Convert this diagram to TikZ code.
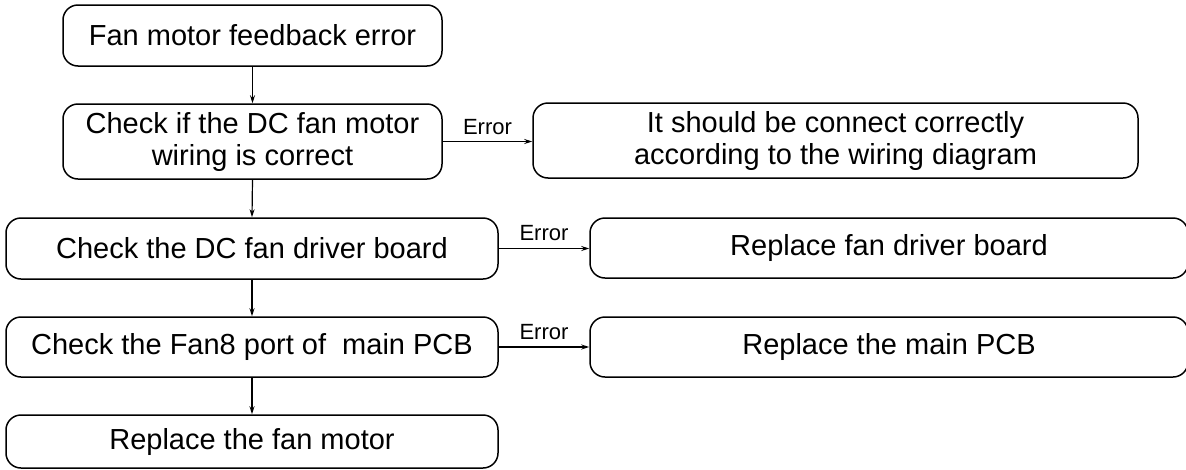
\documentclass[tikz,border=0pt]{standalone}
\usepackage{fontspec}
\setmainfont{Liberation Sans}
\usetikzlibrary{arrows.meta}
\begin{document}
\begin{tikzpicture}[x=1pt,y=-1pt,
  box/.style={draw, line width=1.5pt, rounded corners=15pt, align=center,
    inner sep=0pt, font=\fontsize{29}{32}\selectfont},
  flow/.style={line width=1.2pt, -{Stealth[length=8pt,width=5pt]}},
  lbl/.style={font=\fontsize{22}{24}\selectfont, inner sep=0pt}]
\useasboundingbox (0,0) rectangle (1186,469);
\node[box, minimum width=379pt, minimum height=61pt] (b1) at (252.5,35.5) {Fan motor feedback error};
\node[box, minimum width=379pt, minimum height=75pt] (b2) at (252.5,141.5) {Check if the DC fan motor\\wiring is correct};
\node[box, minimum width=605pt, minimum height=75pt] (r1) at (835.5,140.5) {It should be connect correctly\\according to the wiring diagram};
\node[box, minimum width=492pt, minimum height=61pt] (b3) at (252,248.5) {Check the DC fan driver board};
\node[box, minimum width=598pt, minimum height=60pt] (r2) at (889,248) {Replace fan driver board};
\node[box, minimum width=492pt, minimum height=60pt] (b4) at (252,347) {Check the Fan8 port of~~main PCB};
\node[box, minimum width=598pt, minimum height=60pt] (r3) at (889,347) {Replace the main PCB};
\node[box, minimum width=492pt, minimum height=53pt] (b5) at (252,441.5) {Replace the fan motor};
\draw[flow] (b1.south) -- (b2.north);
\draw[flow] (b2.south) -- (b3.north);
\draw[flow] (b3.south) -- (b4.north);
\draw[flow] (b4.south) -- (b5.north);
\draw[flow] (b2.east) -- (b2.east -| r1.west) node[lbl, midway, above=6pt] {Error};
\draw[flow] (b3.east) -- (b3.east -| r2.west) node[lbl, midway, above=7pt] {Error};
\draw[flow] (b4.east) -- (b4.east -| r3.west) node[lbl, midway, above=7pt] {Error};
\end{tikzpicture}
\end{document}
